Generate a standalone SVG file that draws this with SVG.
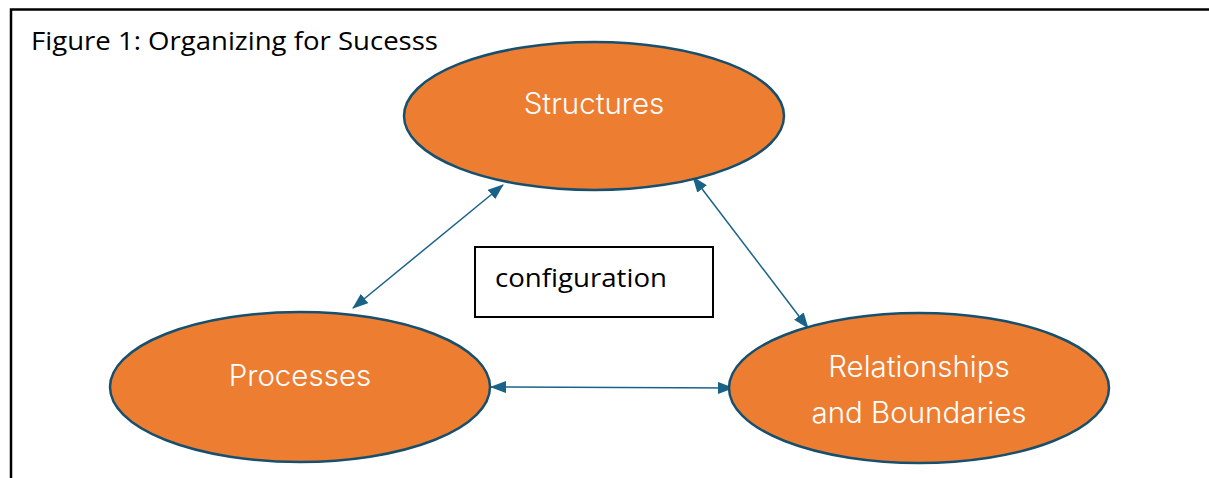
<svg xmlns="http://www.w3.org/2000/svg" width="1209" height="478" viewBox="0 0 1209 478">
<style>
.node{fill:#ED7D31;stroke:#17506E;stroke-width:2.5}
.lbl{font-family:Inter,"Noto Sans",sans-serif;font-size:29.5px;font-weight:300;fill:#ffffff;text-anchor:middle}
.conn{stroke:#1A6388;stroke-width:1.5;fill:none;marker-start:url(#ah);marker-end:url(#ah)}
.blk{font-family:"Open Sans","Liberation Sans",sans-serif;fill:#000}
</style>
<defs>
<marker id="ah" viewBox="0 0 16 12" refX="15" refY="6" markerWidth="16" markerHeight="12" markerUnits="userSpaceOnUse" orient="auto-start-reverse">
<path d="M0,0 L16,6 L0,12 Z" fill="#1A6388"/>
</marker>
</defs>
<rect x="0" y="0" width="1209" height="478" fill="#fff"/>
<rect x="11" y="9.5" width="1220" height="500" fill="none" stroke="#000" stroke-width="2.5"/>
<text class="blk" x="31" y="50" font-size="25" textLength="407" lengthAdjust="spacingAndGlyphs">Figure 1: Organizing for Sucesss</text>
<g id="connectors">
<line class="conn" x1="353" y1="308" x2="503" y2="185"/>
<line class="conn" x1="693" y1="177" x2="808" y2="328"/>
<line class="conn" x1="491" y1="387" x2="733" y2="388"/>
</g>
<g id="structures">
<ellipse class="node" cx="594" cy="116" rx="190" ry="74"/>
<text class="lbl" x="594" y="114">Structures</text>
</g>
<g id="processes">
<ellipse class="node" cx="300" cy="387" rx="190" ry="75"/>
<text class="lbl" x="300" y="386">Processes</text>
</g>
<g id="relationships">
<ellipse class="node" cx="919" cy="388" rx="190" ry="75"/>
<text class="lbl" x="919" y="377">Relationships</text>
<text class="lbl" x="919" y="423">and Boundaries</text>
</g>
<g id="configuration">
<rect x="475" y="247" width="238" height="70" fill="#fff" stroke="#000" stroke-width="2"/>
<text class="blk" x="495" y="287" font-size="25" textLength="172" lengthAdjust="spacingAndGlyphs">configuration</text>
</g>
</svg>
